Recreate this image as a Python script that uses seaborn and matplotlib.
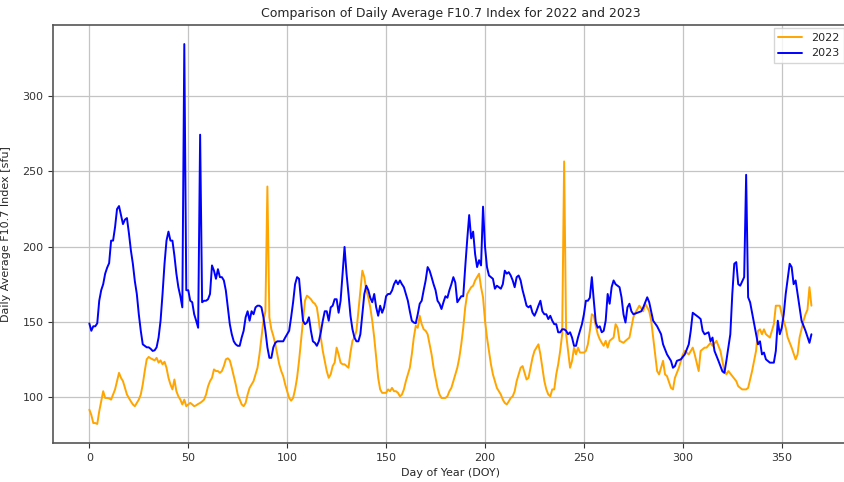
import matplotlib
matplotlib.use("Agg")
import matplotlib.pyplot as plt
import seaborn as sns
import pandas as pd

# Daily average F10.7 solar radio flux [sfu], by day of year
f107_2022_daily = [
    91.5, 88, 82.6, 82.6, 82, 90.4, 97, 103.8, 99.3, 99.3, 99, 98.2, 101.6, 105, 110.5, 116,
    112.7, 110.5, 106, 101.6, 99.3, 97, 95, 93.8, 96, 98.2, 101.6, 108.3, 117.2, 125, 126.6,
    125.7, 125, 124.3, 126, 122.8, 124.3, 121.7, 123.4, 119.4, 112.7, 108.3, 105, 111.6, 103.8,
    100.4, 98.2, 95, 98.2, 93.8, 95, 96, 95, 93.8, 94.4, 95.3, 96, 97, 98.2, 101.6, 107, 110.5,
    112.7, 118.3, 117.2, 117.2, 116, 117.2, 120.5, 125, 125.7, 124.3, 119.4, 113.8, 108.3,
    101.6, 98.2, 95, 93.8, 96, 101.6, 106, 108.3, 110.5, 115, 119.4, 128.3, 139.5, 150.7, 157,
    240, 153, 145, 140.6, 135, 128.3, 121.7, 117.2, 113.8, 108.3, 103.8, 99.3, 97.5, 99.3, 105,
    112.7, 124, 137.3, 150.7, 164, 167.4, 166.3, 165, 163, 162, 159.6, 150.7, 139.5, 130.6, 124,
    117.2, 112.7, 115, 120.5, 122.8, 132.8, 128.3, 122.8, 121.7, 121.7, 120.5, 119.4, 129.5,
    137.3, 139.5, 144, 157, 170.8, 184, 179.7, 170.8, 166.3, 159.6, 150.7, 139.5, 126, 112.7,
    105, 102.7, 102.7, 102.7, 105, 103.8, 106, 103.8, 103.8, 102.7, 100.4, 101.6, 105, 110.5,
    115, 119.4, 128.3, 139.5, 147.3, 146, 154, 148.4, 145, 144, 141.7, 135, 128.3, 119.4, 112.7,
    106, 101.6, 99.3, 99.3, 99.3, 100.4, 103.8, 106, 110.5, 115, 119.4, 126, 135, 146, 159.6,
    168.5, 170.8, 173, 174, 177.5, 179.7, 182, 173, 166.3, 150.7, 139.5, 130.6, 121.7, 115,
    110.5, 106, 103.8, 101.6, 98.2, 96, 95, 97, 99.3, 100.4, 103.8, 110.5, 115, 119.4, 120.5,
    116, 111.6, 112.7, 119.4, 126, 130.6, 132.8, 135, 128.3, 119.4, 110.5, 105, 101.6, 100.4,
    105, 105, 115, 121.7, 130.6, 141.7, 256.7, 141.7, 130.6, 119.4, 124, 132.8, 128.3, 132.8,
    129.5, 129.5, 129.5, 130.6, 135, 144, 155, 154, 147.3, 141.7, 138.4, 136, 134, 137.3, 132.8,
    137.3, 138.4, 139.5,
]
doy_2022_late = [
    266, 267, 268, 270, 271, 273, 275, 276, 278, 280, 281, 283, 284, 285, 286, 287, 288, 290,
    291, 292, 294, 295, 296, 298, 300, 301, 303, 305, 306, 308, 309, 311, 312, 314, 315, 317,
    319, 321, 322, 323, 325, 327, 328, 330, 332, 333, 335, 337, 338, 339, 340, 341, 342, 344,
    345, 346, 347, 349, 350, 352, 353, 355, 357, 358, 359, 361, 362, 363, 364, 365,
]
f107_2022_late = [
    148.4, 146, 137.3, 136, 137.3, 139.5, 153, 156, 160.7, 157, 162, 157, 150.7, 139.5, 128.3,
    117.2, 115, 124, 115, 113.8, 106, 105, 112.7, 119.4, 128.3, 130.6, 128.3, 132.8, 128.3,
    117.2, 130.6, 132.8, 132.8, 136, 134, 137.3, 130.6, 117.2, 115, 117.2, 113.8, 110.5, 107.1,
    105, 105, 106, 117.2, 130.6, 144, 145, 141.7, 145, 141.7, 139.5, 144, 148.4, 160.7, 160.7,
    155, 146, 139.5, 132.8, 125, 128.3, 139.5, 150.7, 155, 158, 173, 160.7,
]

f107_2023_daily = [
    148.9, 144, 147, 147, 149, 164, 171, 175, 182, 186, 189, 204, 204, 213, 225, 227, 221, 215,
    218, 219, 209, 197.5, 188.6, 177, 168.5, 155, 144, 135, 134, 133, 133, 132, 130.6, 131, 133,
    139.5, 150.7, 168.5, 188.6, 204, 210, 204, 204, 194, 182, 173, 167, 159.6, 334.8, 171, 171,
    164, 163, 155, 150.7, 146, 274.5, 163, 164, 164, 165, 168.5, 187.5, 184, 178.6, 185, 179.7,
    179.7, 177.5, 170.8, 159.6, 148.4, 141.7, 137, 135, 134, 134, 139.5, 144, 153, 157, 150.7,
    157, 155, 159.6, 160.7, 160.7, 159.6, 153, 144, 133, 126, 126, 133, 136, 137, 137, 137, 137,
    139.5, 141.7, 144, 153, 163, 175, 179.7, 178.6, 164, 150.7, 148.4, 149.5, 153, 144, 137, 136,
    134, 137, 143, 150.7, 157, 157, 150.7, 159.6, 160.7, 165, 165, 156, 164, 182, 199.8, 182,
    168.5, 154, 145, 139.5, 137, 137, 141.7, 155, 168.5, 174, 171, 166, 163, 168.5, 159.6, 154,
    160.7, 156, 159.6, 167, 168.5, 168.5, 170.8, 175, 177.5, 175, 177.5, 175, 173, 168.5, 164,
    157, 150.7, 149.5, 149, 155, 162, 164, 171, 177.5, 186.4, 184, 179.7, 175, 171, 164, 162,
    158.5, 163, 167, 166, 171, 175, 179.7, 176, 163, 165, 167, 167, 186.4, 204.5, 221, 205.5,
    210, 195, 186.4, 191, 187.5, 226.6, 200, 186.4, 180.8, 179.7, 178.6, 172, 174, 173, 172,
    175, 184, 182, 183, 180.8, 177.5, 173, 179.7, 180.8, 177.5, 171, 166, 160.7, 159.6, 160.7,
    156, 154, 157, 160.7, 164, 157, 155, 155, 151.8, 154, 150.7, 148.4, 148.4, 143, 143, 145,
    145, 144, 141.7, 143, 139.5, 134, 134, 139.5, 144, 148.4, 155, 164, 164, 166, 179.7, 164,
    149.5, 146, 147, 143, 144, 150.7, 168.5, 162, 173, 177.5,
]
doy_2023_late = [
    266, 268, 269, 270, 271, 272, 273, 274, 275, 277, 279, 280, 282, 283, 284, 285, 287, 289,
    290, 292, 294, 295, 296, 297, 299, 301, 303, 304, 305, 306, 308, 309, 310, 311, 313, 314,
    315, 316, 318, 320, 321, 322, 324, 325, 326, 327, 328, 329, 331, 332, 333, 334, 335, 337,
    338, 339, 340, 341, 342, 344, 346, 347, 348, 349, 350, 351, 352, 354, 355, 356, 357, 358,
    360, 362, 364, 365,
]
f107_2023_late = [
    175, 173, 166.3, 155, 149.5, 159.6, 162, 157, 155, 156, 157, 159.6, 166.3, 163, 157, 150.7,
    147, 141.7, 135, 128.3, 124, 119.4, 120.5, 124, 125, 128.3, 135, 144, 156, 155, 153, 151.8,
    144, 141.7, 143, 137, 139.5, 130.6, 124, 117, 116, 124, 141.7, 168.5, 188.6, 189.7, 175,
    174, 179.7, 247.8, 166.3, 163, 156, 141.7, 135, 137, 128.3, 129.5, 125, 122.8, 122.8, 130.6,
    150.7, 141.7, 146, 155, 168.5, 188.6, 186.4, 175, 177.5, 168.5, 150.7, 144, 136, 141.7,
]

years = ["2022", "2023"]
colors = {"2022": "orange", "2023": "blue"}

doy_2022 = list(range(len(f107_2022_daily))) + doy_2022_late
doy_2023 = list(range(len(f107_2023_daily))) + doy_2023_late

df = pd.concat([
    pd.DataFrame({"DOY": doy_2022, "F107": f107_2022_daily + f107_2022_late, "Year": "2022"}),
    pd.DataFrame({"DOY": doy_2023, "F107": f107_2023_daily + f107_2023_late, "Year": "2023"}),
], ignore_index=True)

sns.set_style("ticks")
plt.rcParams["font.family"] = ["DejaVu Sans"]

fig = plt.figure(figsize=(8.45, 4.82), dpi=100)
ax = fig.add_axes([0.063, 0.081, 0.94, 0.867])

for yr in years:
    sub = df[df["Year"] == yr]
    sns.lineplot(data=sub, x="DOY", y="F107", ax=ax, color=colors[yr], label=yr,
                 linewidth=1.4, estimator=None, sort=False)

ax.set_xticks([0, 50, 100, 150, 200, 250, 300, 350])
ax.set_yticks([100, 150, 200, 250, 300])
ax.grid(True, color="#c4c4c4", linewidth=0.9)
ax.set_axisbelow(True)
for sp in ax.spines.values():
    sp.set_visible(True)
    sp.set_color("#555555")
    sp.set_linewidth(1.2)
ax.tick_params(labelsize=8, colors="#333333", length=3.5)
ax.set_title("Comparison of Daily Average F10.7 Index for 2022 and 2023", fontsize=9, pad=6)
ax.set_xlabel("Day of Year (DOY)", fontsize=8, labelpad=4)
ax.set_ylabel("Daily Average F10.7 Index [sfu]", fontsize=8, labelpad=8)
ax.legend(loc="upper right", fontsize=8, frameon=True, fancybox=False, framealpha=0.8,
          edgecolor="#cccccc", handlelength=2.2, borderaxespad=0.3)

fig.savefig("out.png", dpi=100)
